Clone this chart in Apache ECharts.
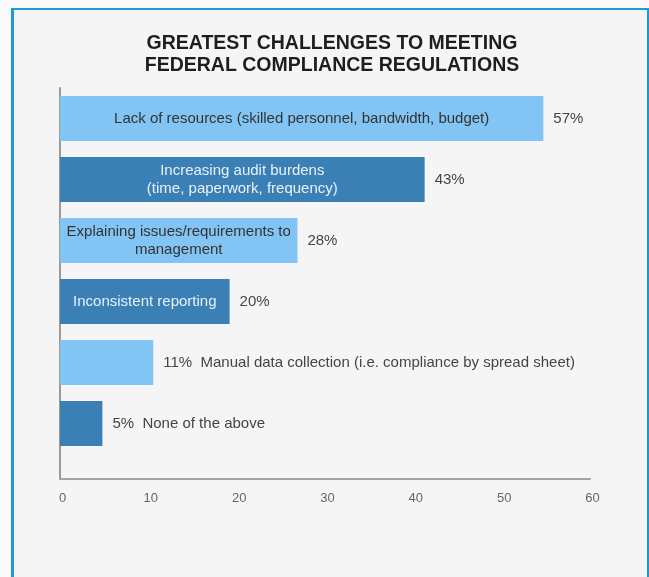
<!DOCTYPE html>
<html>
<head>
<meta charset="utf-8">
<script src="https://cdn.jsdelivr.net/npm/echarts@6/dist/echarts.min.js"></script>
<style>
  html, body { margin: 0; padding: 0; background: #fafafa; }
  #frame {
    position: absolute; left: 11px; top: 8px; right: 0; bottom: -10px;
    border-left: 3px solid #1b9ad6; border-top: 2px solid #1b9ad6; border-right: 2px solid #1b9ad6;
    background: #f5f5f5;
  }
  #chart { position: absolute; left: 0; top: 0; width: 649px; height: 577px; }
</style>
</head>
<body>
<div id="frame"></div>
<div id="chart"></div>
<script>
// Survey answers, top to bottom
const categories = [
  'Lack of resources (skilled personnel, bandwidth, budget)',
  'Increasing audit burdens\n(time, paperwork, frequency)',
  'Explaining issues/requirements to\nmanagement',
  'Inconsistent reporting',
  'Manual data collection (i.e. compliance by spread sheet)',
  'None of the above'
];
const values = [57, 43, 28, 20, 11, 5];
const xTicks = [0, 10, 20, 30, 40, 50, 60];

const LIGHT = '#82c4f3';
const DARK = '#3a80b4';
const FONT = '"Liberation Sans", Arial, Helvetica, sans-serif';
// bars shorter than this get their answer text next to the value instead of inside
const INSIDE_MIN = 15;

const chart = echarts.init(document.getElementById('chart'), null, { renderer: 'canvas' });

const wrapRich = (text, style) =>
  text.split('\n').map(line => '{' + style + '|' + line + '}').join('\n');

chart.setOption({
  backgroundColor: 'transparent',
  animation: false,
  textStyle: { fontFamily: FONT },
  title: {
    text: 'GREATEST CHALLENGES TO MEETING\nFEDERAL COMPLIANCE REGULATIONS',
    left: 327,
    top: 28,
    textAlign: 'center',
    textStyle: { fontFamily: FONT, fontSize: 19.5, fontWeight: 'bold', color: '#1e1e1e', lineHeight: 22 }
  },
  grid: [
    { left: 60, right: 59, top: 88, bottom: 98 },
    { left: 60, right: 59, top: 88, bottom: 123 }
  ],
  xAxis: [
    {
      gridIndex: 0, type: 'value',
      min: xTicks[0], max: xTicks[xTicks.length - 1], interval: xTicks[1] - xTicks[0],
      axisLine: { show: true, lineStyle: { color: '#a4a4a4', width: 2 } },
      axisTick: { show: false },
      splitLine: { show: false },
      axisLabel: { color: '#666', fontSize: 13, margin: 13, padding: [0, 0, 0, 5], fontFamily: FONT }
    },
    { gridIndex: 1, type: 'value', min: 0, max: 62.5, show: false }
  ],
  yAxis: [
    {
      gridIndex: 0, type: 'value', min: 0, max: 1,
      axisLine: { show: true, lineStyle: { color: '#9a9a9a', width: 2 } },
      axisTick: { show: false }, axisLabel: { show: false }, splitLine: { show: false }
    },
    { gridIndex: 1, type: 'category', data: categories, inverse: true, show: false }
  ],
  series: [
    {
      type: 'bar',
      xAxisIndex: 1, yAxisIndex: 1,
      data: values,
      barWidth: 45,
      silent: true,
      itemStyle: { color: p => (p.dataIndex % 2 ? DARK : LIGHT) },
      label: {
        show: true, position: 'right', distance: 10,
        color: '#454545', fontSize: 15, fontFamily: FONT,
        formatter: p => p.value + '%' + (p.value < INSIDE_MIN ? '  ' + p.name : '')
      }
    },
    {
      type: 'bar',
      xAxisIndex: 1, yAxisIndex: 1,
      data: values,
      barWidth: 45,
      barGap: '-100%',
      silent: true,
      itemStyle: { color: 'transparent' },
      label: {
        show: true, position: 'inside',
        formatter: p => (p.value >= INSIDE_MIN ? wrapRich(p.name, p.dataIndex % 2 ? 'onDark' : 'onLight') : ''),
        rich: {
          onLight: { color: '#333', fontSize: 15, lineHeight: 18, fontFamily: FONT },
          onDark: { color: '#e8f1f9', fontSize: 15, lineHeight: 18, fontFamily: FONT }
        }
      }
    }
  ]
});
</script>
</body>
</html>
